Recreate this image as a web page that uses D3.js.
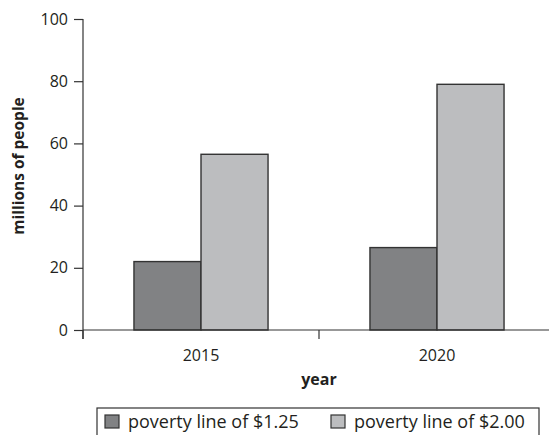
<!DOCTYPE html>
<html>
<head>
<meta charset="utf-8">
<script src="https://cdn.jsdelivr.net/npm/d3@7"></script>
<style>
  body { margin: 0; background: #fff; }
  text { font-family: "Open Sans", "Noto Sans", sans-serif; fill: #231f20; }
</style>
</head>
<body>
<script>
var width = 549,
    height = 435;

// data
var years = ["2015", "2020"];
var series = ["poverty line of $1.25", "poverty line of $2.00"];
var line125 = [22, 26.5];
var line200 = [56.5, 79];
var yTicks = [0, 20, 40, 60, 80, 100];
var colors = ["#818284", "#bcbdbf"];

var rows = years.map(function(y, i) {
  return { year: y, values: [line125[i], line200[i]] };
});

var svg = d3.select("body").append("svg")
    .attr("width", width)
    .attr("height", height);

var x = d3.scaleBand().domain(years).range([83, 555]).padding(0);
var xs = d3.scaleBand().domain(d3.range(series.length))
    .range([0, x.bandwidth()]).paddingInner(0).paddingOuter(0.76);
var y = d3.scaleLinear().domain([0, 100]).range([330, 19]);

// bars
var group = svg.selectAll(".grp")
  .data(rows)
  .enter().append("g")
  .attr("transform", function(d) { return "translate(" + x(d.year) + ",0)"; });

group.selectAll("rect")
  .data(function(d) { return d.values; })
  .enter().append("rect")
  .attr("x", function(d, i) { return xs(i); })
  .attr("y", function(d) { return y(d); })
  .attr("width", xs.bandwidth())
  .attr("height", function(d) { return y(0) - y(d); })
  .attr("fill", function(d, i) { return colors[i]; })
  .attr("stroke", "#333")
  .attr("stroke-width", 1.4);

// y axis
var yAxis = svg.append("g")
  .attr("transform", "translate(83,0)")
  .call(d3.axisLeft(y).tickValues(yTicks).tickSize(9).tickPadding(6));
yAxis.select(".domain").remove();
yAxis.append("line")
  .attr("x1", 0).attr("x2", 0)
  .attr("y1", y(100)).attr("y2", y(0) + 9)
  .attr("stroke", "#333").attr("stroke-width", 1.2);
yAxis.selectAll(".tick line").attr("stroke", "#333").attr("stroke-width", 1.2);
yAxis.selectAll(".tick text").style("font-size", "16px").attr("fill", "#231f20");

// x axis
svg.append("line")
  .attr("x1", 83).attr("x2", width)
  .attr("y1", y(0)).attr("y2", y(0))
  .attr("stroke", "#333").attr("stroke-width", 1.2);

var bounds = years.map(function(d) { return x(d); }).concat([x(years[years.length - 1]) + x.bandwidth()]);
svg.selectAll(".xtick")
  .data(bounds)
  .enter().append("line")
  .attr("x1", function(d) { return d; })
  .attr("x2", function(d) { return d; })
  .attr("y1", y(0)).attr("y2", y(0) + 9)
  .attr("stroke", "#333").attr("stroke-width", 1.2);

svg.selectAll(".xlab")
  .data(years)
  .enter().append("text")
  .attr("x", function(d) { return x(d) + x.bandwidth() / 2; })
  .attr("y", 361)
  .attr("text-anchor", "middle")
  .style("font-size", "16px")
  .text(function(d) { return d; });

// axis titles
svg.append("text")
  .attr("x", 319).attr("y", 385)
  .attr("text-anchor", "middle")
  .style("font-size", "16px").style("font-weight", "bold")
  .text("year");

svg.append("text")
  .attr("transform", "translate(24,166) rotate(-90)")
  .attr("text-anchor", "middle")
  .style("font-size", "15.5px").style("font-weight", "bold")
  .text("millions of people");

// legend
var legend = svg.append("g");
legend.append("rect")
  .attr("x", 97).attr("y", 408)
  .attr("width", 442).attr("height", 40)
  .attr("fill", "none")
  .attr("stroke", "#333").attr("stroke-width", 1.2);

var legX = [105, 331];
var item = legend.selectAll(".leg")
  .data(series)
  .enter().append("g")
  .attr("transform", function(d, i) { return "translate(" + legX[i] + ",415)"; });
item.append("rect")
  .attr("width", 14).attr("height", 13)
  .attr("fill", function(d, i) { return colors[i]; })
  .attr("stroke", "#333").attr("stroke-width", 1.2);
item.append("text")
  .attr("x", 23).attr("y", 13)
  .style("font-size", "18px")
  .text(function(d) { return d; });
</script>
</body>
</html>
